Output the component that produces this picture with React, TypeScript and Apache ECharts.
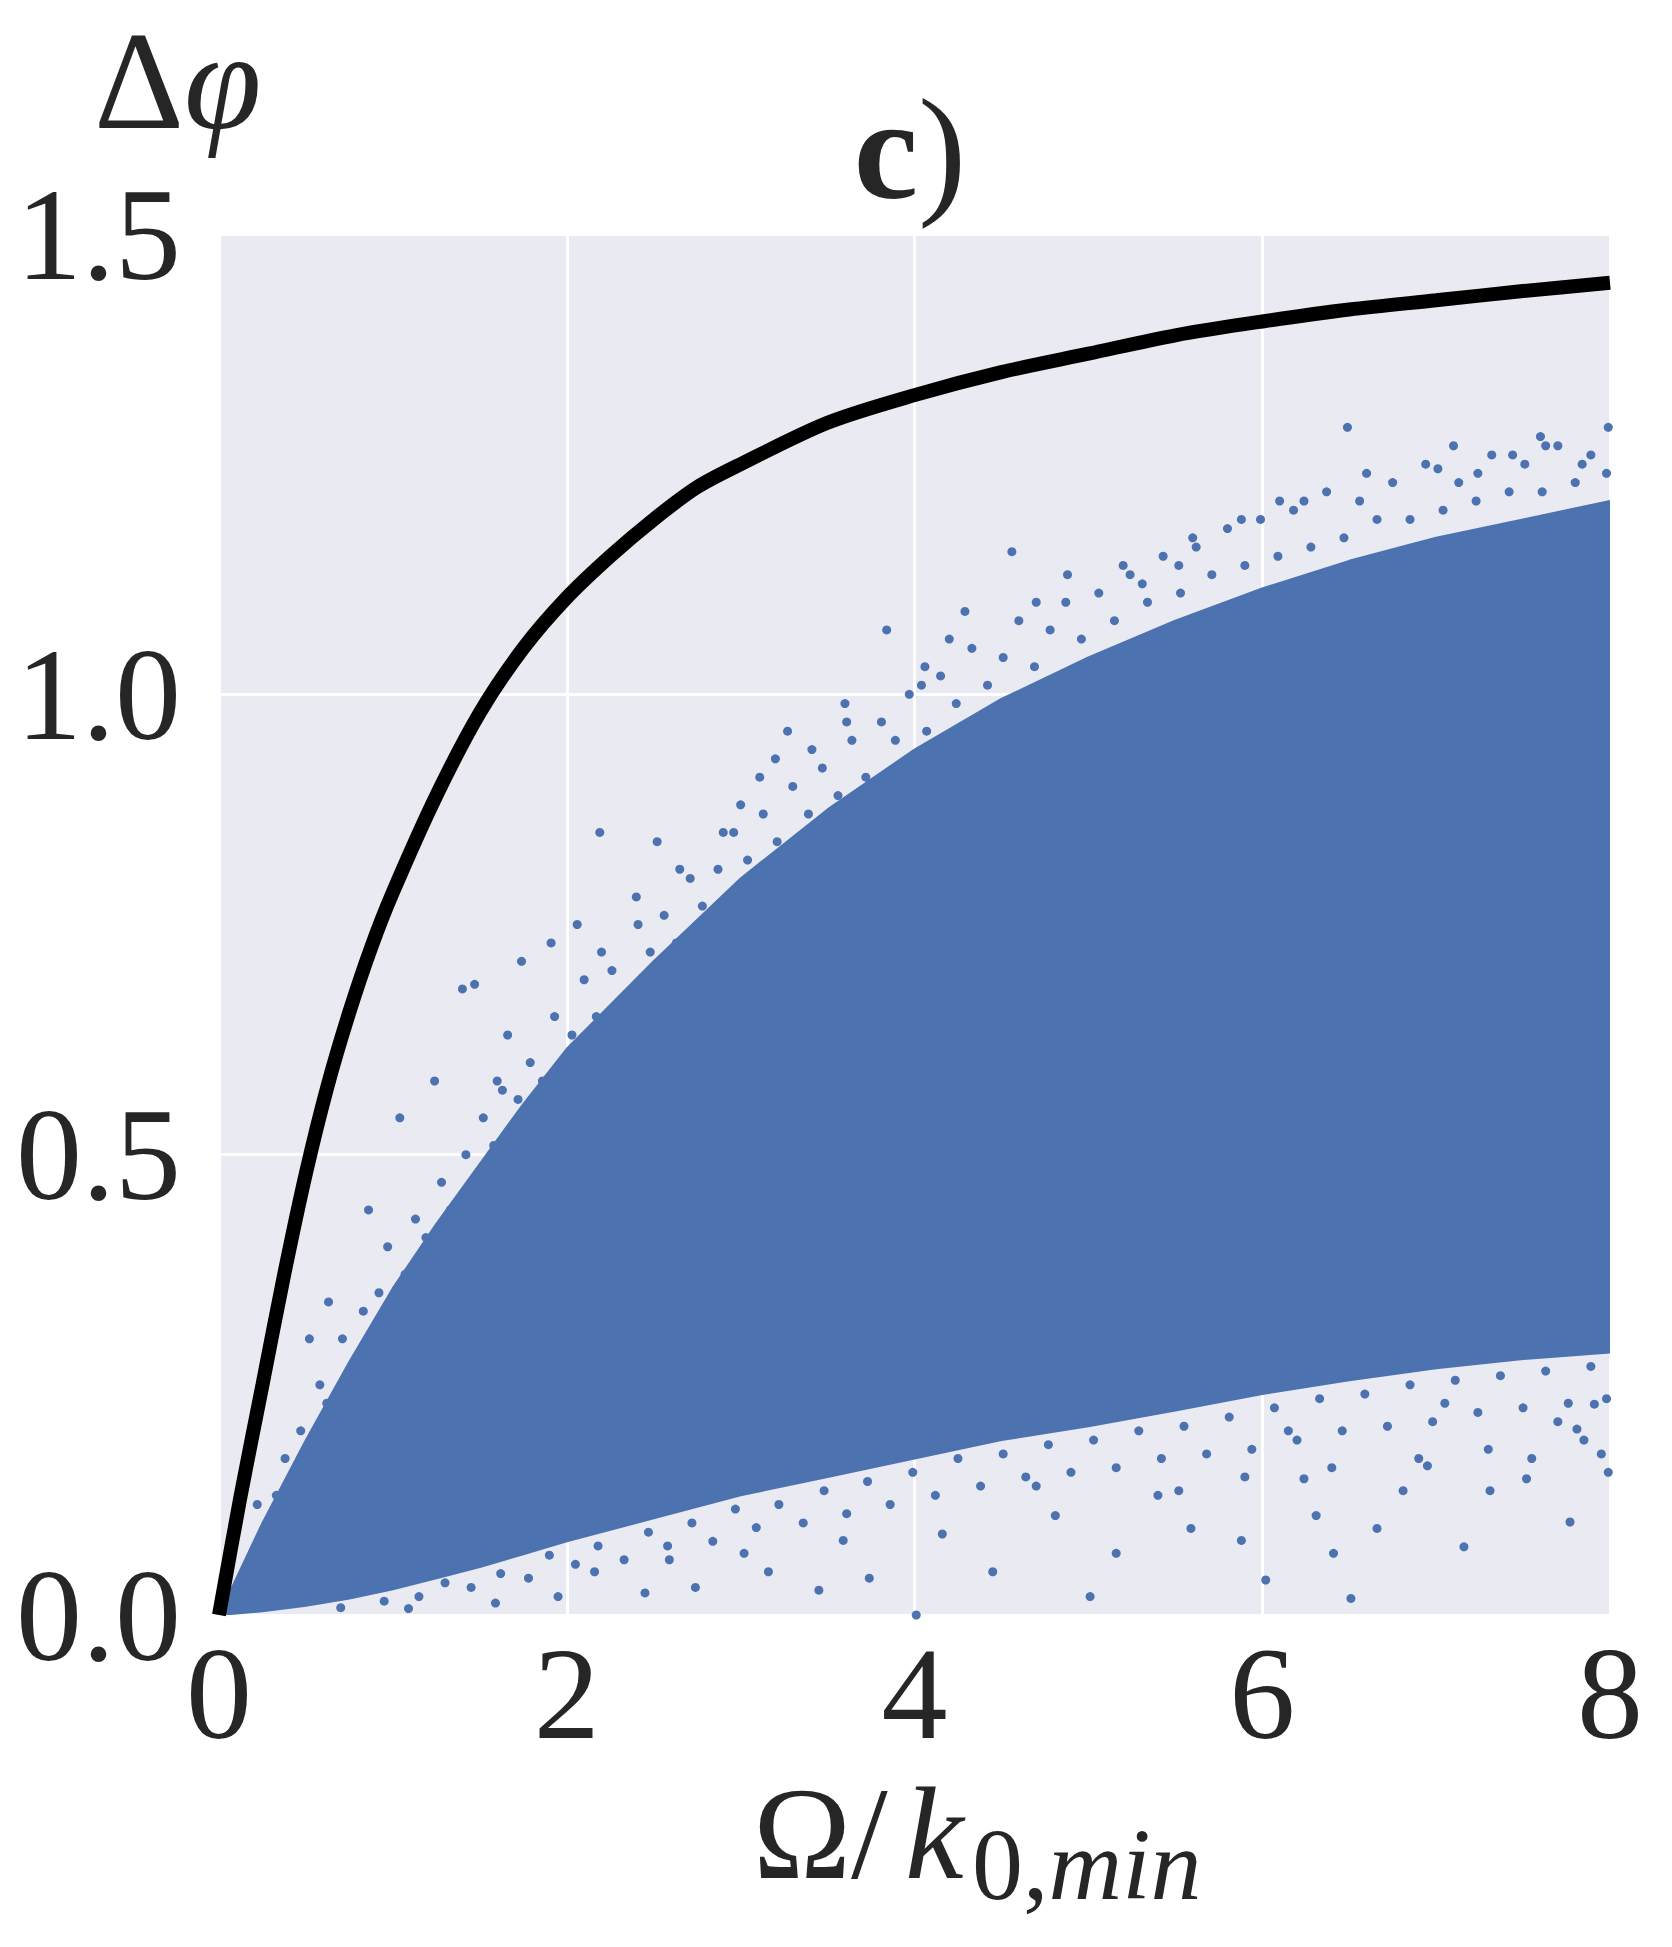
import { useEffect, useRef } from "react";
import * as echarts from "echarts";

// Tick values
const xTickValues = [0, 2, 4, 6, 8];
const yTickValues = [0, 0.5, 1.0, 1.5];

// Black theoretical curve
const curveX = [0, 0.125, 0.25, 0.375, 0.5, 0.625, 0.75, 0.875, 1, 1.25, 1.5, 1.75, 2, 2.25, 2.5, 2.75, 3, 3.5, 4, 4.5, 5, 5.5, 6, 6.5, 7, 7.5, 8];
const curveY = [0, 0.13, 0.25, 0.37, 0.48, 0.575, 0.655, 0.725, 0.785, 0.89, 0.98, 1.05, 1.105, 1.15, 1.19, 1.225, 1.25, 1.295, 1.325, 1.35, 1.37, 1.39, 1.405, 1.418, 1.428, 1.438, 1.447];

// Dense scatter cloud envelope
const envX = [0, 0.25, 0.5, 0.75, 1, 1.25, 1.5, 1.75, 2, 2.5, 3, 3.5, 4, 4.5, 5, 5.5, 6, 6.5, 7, 7.5, 8];
const envHigh = [0, 0.10, 0.19, 0.275, 0.355, 0.425, 0.49, 0.555, 0.615, 0.71, 0.8, 0.875, 0.94, 0.995, 1.04, 1.08, 1.115, 1.145, 1.17, 1.19, 1.21];
const envLow = [0, 0.004, 0.01, 0.018, 0.028, 0.04, 0.052, 0.066, 0.08, 0.105, 0.13, 0.15, 0.17, 0.19, 0.205, 0.222, 0.24, 0.255, 0.268, 0.278, 0.285];

// Scatter points above the dense cloud
const upperDotX = [
  0.52, 0.63, 0.86, 1.04, 1.24, 1.40, 1.47, 1.66, 1.74, 1.91, 2.06, 2.19, 2.52, 2.65, 2.90, 3.11, 3.27, 3.41, 3.61, 3.84,
  4.04, 4.06, 4.29, 4.56, 4.88, 5.31, 5.52, 5.88, 6.24, 6.49, 7.01, 7.24, 7.44, 7.63, 7.84, 7.99,
  0.22, 0.33, 0.38, 0.47, 0.58, 0.62, 0.71, 0.78, 0.83, 0.92, 0.97, 1.07, 1.13, 1.19, 1.28, 1.33, 1.42, 1.52, 1.58, 1.63,
  1.72, 1.79, 1.86, 1.93, 2.03, 2.10, 2.17, 2.26, 2.33, 2.41, 2.48, 2.56, 2.63, 2.71, 2.78, 2.87, 2.96, 3.04, 3.13, 3.21,
  3.30, 3.39, 3.47, 3.56, 3.64, 3.72, 3.81, 3.89, 3.97, 4.07, 4.15, 4.24, 4.33, 4.42, 4.51, 4.60, 4.69, 4.78, 4.87, 4.96,
  5.06, 5.15, 5.24, 5.34, 5.43, 5.53, 5.62, 5.71, 5.80, 5.90, 5.99, 6.09, 6.18, 6.28, 6.37, 6.47, 6.56, 6.66, 6.75, 6.85,
  6.94, 7.04, 7.13, 7.23, 7.32, 7.42, 7.51, 7.61, 7.70, 7.80, 7.89, 7.98,
  1.6, 2.2, 2.4, 3.0, 3.2, 3.6, 4.2, 4.7, 5.2, 5.6, 6.1, 6.6, 7.1, 7.6,
];
const upperDotY = [
  0.30, 0.34, 0.44, 0.54, 0.58, 0.68, 0.685, 0.63, 0.71, 0.73, 0.75, 0.85, 0.84, 0.81, 0.85, 0.91, 0.96, 0.94, 0.97, 1.07,
  1.01, 1.03, 1.09, 1.155, 1.13, 1.12, 1.14, 1.19, 1.21, 1.29, 1.245, 1.24, 1.26, 1.27, 1.25, 1.29,
  0.12, 0.13, 0.17, 0.20, 0.25, 0.23, 0.30, 0.27, 0.33, 0.35, 0.40, 0.37, 0.43, 0.41, 0.47, 0.44, 0.50, 0.54, 0.51, 0.57,
  0.56, 0.60, 0.58, 0.65, 0.63, 0.69, 0.65, 0.70, 0.67, 0.75, 0.72, 0.76, 0.73, 0.80, 0.77, 0.81, 0.85, 0.82, 0.87, 0.84,
  0.90, 0.87, 0.92, 0.89, 0.95, 0.91, 0.97, 0.95, 1.00, 0.96, 1.02, 0.99, 1.05, 1.01, 1.04, 1.08, 1.03, 1.07, 1.10, 1.06,
  1.11, 1.08, 1.13, 1.10, 1.15, 1.11, 1.16, 1.13, 1.18, 1.14, 1.19, 1.15, 1.20, 1.16, 1.22, 1.17, 1.21, 1.19, 1.23, 1.19,
  1.25, 1.20, 1.23, 1.21, 1.26, 1.22, 1.25, 1.22, 1.27, 1.23, 1.26, 1.24,
  0.58, 0.72, 0.78, 0.88, 0.93, 0.99, 1.06, 1.10, 1.14, 1.17, 1.21, 1.24, 1.27, 1.28,
];

// Scatter points below the dense cloud
const lowerDotX = [
  1.09, 1.59, 1.95, 2.16, 2.45, 2.59, 2.74, 3.02, 3.16, 3.45, 3.59, 3.74, 4.01, 4.16, 4.45, 4.81, 5.01, 5.16, 5.52, 5.59,
  5.88, 6.02, 6.24, 6.31, 6.41, 6.51, 6.66, 6.81, 6.95, 7.16, 7.31, 7.52, 7.77, 7.81, 7.91, 7.95, 7.99,
  0.70, 0.95, 1.15, 1.30, 1.45, 1.62, 1.78, 1.90, 2.05, 2.18, 2.33, 2.47, 2.58, 2.72, 2.84, 2.97, 3.09, 3.22, 3.36, 3.48,
  3.61, 3.73, 3.86, 3.99, 4.12, 4.25, 4.38, 4.51, 4.64, 4.77, 4.90, 5.03, 5.16, 5.29, 5.42, 5.55, 5.68, 5.81, 5.94, 6.07,
  6.20, 6.33, 6.46, 6.59, 6.72, 6.85, 6.98, 7.11, 7.24, 7.37, 7.50, 7.63, 7.76, 7.89, 7.98,
  7.30, 7.55, 7.85, 6.90, 6.40, 5.90, 5.40, 7.05, 7.70, 6.15, 4.70,
];
const lowerDotY = [
  0.007, 0.013, 0.02, 0.047, 0.024, 0.06, 0.03, 0.067, 0.047, 0.027, 0.081, 0.04, 0.0, 0.088, 0.047, 0.108, 0.02, 0.067,
  0.135, 0.094, 0.081, 0.038, 0.148, 0.108, 0.067, 0.018, 0.094, 0.135, 0.162, 0.074, 0.135, 0.148, 0.101, 0.202, 0.229,
  0.175, 0.155,
  0.008, 0.015, 0.02, 0.035, 0.03, 0.045, 0.04, 0.065, 0.055, 0.075, 0.06, 0.09, 0.075, 0.10, 0.08, 0.115, 0.095, 0.12,
  0.10, 0.135, 0.11, 0.145, 0.12, 0.155, 0.13, 0.17, 0.14, 0.175, 0.15, 0.185, 0.155, 0.19, 0.16, 0.20, 0.17, 0.205,
  0.175, 0.215, 0.18, 0.225, 0.19, 0.235, 0.20, 0.24, 0.205, 0.25, 0.21, 0.255, 0.22, 0.26, 0.225, 0.265, 0.23, 0.27, 0.235,
  0.18, 0.17, 0.19, 0.17, 0.16, 0.15, 0.13, 0.23, 0.21, 0.2, 0.14,
];

const BLUE = "#4C72B0";
const BG = "#EAEAF2";
const TEXT = "#262626";
const FONT = "'Liberation Serif', 'DejaVu Serif', serif";

export default function App() {
  const ref = useRef<HTMLDivElement>(null);

  useEffect(() => {
    document.body.style.margin = "0";
    const chart = echarts.init(ref.current!, null, { renderer: "svg" });

    const envData = envX.map((x, i) => [x, envLow[i], envHigh[i]]);
    const dots = upperDotX
      .map((x, i) => [x, upperDotY[i]])
      .concat(lowerDotX.map((x, i) => [x, lowerDotY[i]]));

    chart.setOption({
      animation: false,
      backgroundColor: "#ffffff",
      grid: {
        left: 219,
        top: 234,
        width: 1391,
        height: 1381,
        show: true,
        backgroundColor: BG,
        borderWidth: 0,
      },
      xAxis: {
        type: "value",
        min: xTickValues[0],
        max: xTickValues[xTickValues.length - 1],
        interval: 2,
        axisLine: { show: false },
        axisTick: { show: false },
        axisLabel: {
          margin: 12,
          fontSize: 132,
          fontFamily: FONT,
          color: TEXT,
          formatter: (v: number) => String(v),
        },
        splitLine: { show: true, lineStyle: { color: "#ffffff", width: 3 } },
      },
      yAxis: {
        type: "value",
        min: yTickValues[0],
        max: yTickValues[yTickValues.length - 1],
        interval: 0.5,
        axisLine: { show: false },
        axisTick: { show: false },
        axisLabel: {
          margin: 38,
          fontSize: 132,
          fontFamily: FONT,
          color: TEXT,
          formatter: (v: number) => v.toFixed(1),
        },
        splitLine: { show: true, lineStyle: { color: "#ffffff", width: 3 } },
      },
      series: [
        {
          type: "custom",
          coordinateSystem: "cartesian2d",
          data: envData,
          encode: { x: 0, y: [1, 2] },
          clip: true,
          z: 2,
          silent: true,
          renderItem: (params: any, api: any) => {
            if (params.dataIndex !== 0) return null;
            const top = envX.map((x, i) => api.coord([x, envHigh[i]]));
            const bot = envX.map((x, i) => api.coord([x, envLow[i]])).reverse();
            return {
              type: "polygon",
              shape: { points: top.concat(bot) },
              style: { fill: BLUE, stroke: BLUE, lineWidth: 2, lineJoin: "round" },
            };
          },
        },
        {
          type: "scatter",
          data: dots,
          symbolSize: 9,
          itemStyle: { color: BLUE, opacity: 1 },
          z: 3,
          silent: true,
        },
        {
          type: "line",
          data: curveX.map((x, i) => [x, curveY[i]]),
          smooth: 0.3,
          symbol: "none",
          lineStyle: { color: "#000000", width: 14 },
          z: 4,
          silent: true,
        },
      ],
      graphic: [
        {
          type: "text",
          x: 910,
          y: 149,
          style: {
            text: "{b|c}{n|)}",
            fontSize: 145,
            fontFamily: FONT,
            align: "center",
            verticalAlign: "middle",
            rich: {
              b: { fontSize: 145, fontWeight: "bold", fontFamily: FONT, fill: TEXT },
              n: { fontSize: 145, fontFamily: FONT, fill: TEXT },
            },
          },
        },
        {
          type: "text",
          x: 94,
          y: 80,
          style: {
            text: "{u|Δ}{i|φ}",
            fontSize: 140,
            fontFamily: FONT,
            align: "left",
            verticalAlign: "middle",
            rich: {
              u: { fontSize: 140, fontFamily: FONT, fill: TEXT },
              i: { fontSize: 140, fontStyle: "italic", fontFamily: FONT, fill: TEXT },
            },
          },
        },
        {
          type: "text",
          x: 753,
          y: 1833,
          style: {
            text: "Ω/",
            fontSize: 132,
            fontFamily: FONT,
            fill: TEXT,
            align: "left",
            verticalAlign: "middle",
          },
        },
        {
          type: "text",
          x: 905,
          y: 1833,
          style: {
            text: "k",
            fontSize: 132,
            fontStyle: "italic",
            fontFamily: FONT,
            fill: TEXT,
            align: "left",
            verticalAlign: "middle",
          },
        },
        {
          type: "text",
          x: 972,
          y: 1864,
          style: {
            text: "{u|0,}{i|min}",
            fontSize: 102,
            fontFamily: FONT,
            align: "left",
            verticalAlign: "middle",
            rich: {
              u: { fontSize: 102, fontFamily: FONT, fill: TEXT },
              i: { fontSize: 102, fontStyle: "italic", fontFamily: FONT, fill: TEXT },
            },
          },
        },
      ],
    });

    return () => chart.dispose();
  }, []);

  return <div ref={ref} style={{ width: 1672, height: 1947, overflow: "hidden" }} />;
}
